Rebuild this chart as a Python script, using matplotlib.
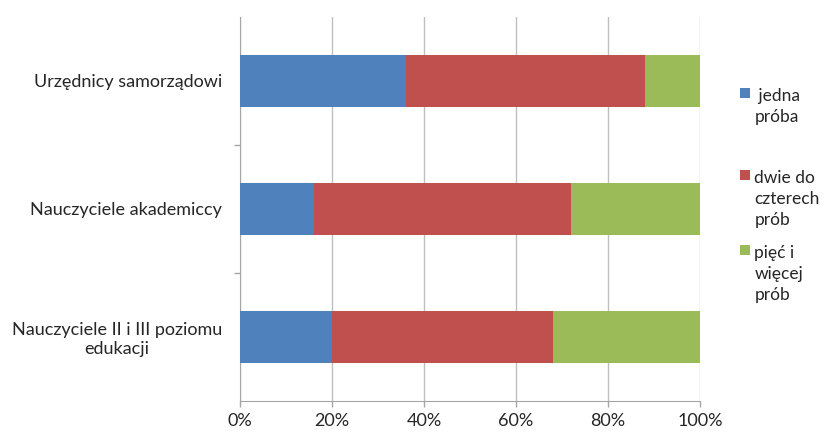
import matplotlib.pyplot as plt
from matplotlib.legend import Legend
import numpy as np

plt.rcParams['font.family'] = ['Lato', 'DejaVu Sans']

categories = ['Urzędnicy samorządowi', 'Nauczyciele akademiccy', 'Nauczyciele II i III poziomu\nedukacji']
series_names = [' jedna\npróba', 'dwie do\nczterech\nprób', 'pięć i\nwięcej\nprób']
jedna = [36, 16, 20]
dwie_do_czterech = [52, 56, 48]
piec_i_wiecej = [12, 28, 32]
x_ticks = [0, 20, 40, 60, 80, 100]
x_labels = ['0%', '20%', '40%', '60%', '80%', '100%']

colors = ['#4F81BD', '#C0504D', '#9BBB59']
grey = '#A6A6A6'
txt = '#262626'
fs = 13

fig = plt.figure(figsize=(8.26, 4.33), dpi=100)
ax = fig.add_axes([240 / 826, 1 - 401 / 433, 460 / 826, 384 / 433])

y = np.arange(len(categories))
left = np.zeros(len(categories))
bars = []
for vals, name, c in zip([jedna, dwie_do_czterech, piec_i_wiecej], series_names, colors):
    bars.append(ax.barh(y, vals, left=left, height=0.4, color=c, label=name, zorder=3))
    left += np.array(vals)

ax.set_xlim(0, 100)
ax.set_ylim(len(categories) - 0.5, -0.5)
ax.set_xticks(x_ticks, x_labels)
ax.set_yticks(y, categories, ha='right', multialignment='center')
ax.set_yticks([0.5, 1.5], minor=True)
ax.tick_params(axis='y', which='major', length=0, pad=13, labelsize=fs, labelcolor=txt)
ax.tick_params(axis='y', which='minor', length=4, color=grey, width=1)
ax.tick_params(axis='x', length=4, color=grey, width=1, pad=5, labelsize=fs, labelcolor=txt)

ax.grid(axis='x', color='#BFBFBF', linewidth=1, zorder=0)
for s in ['top', 'right']:
    ax.spines[s].set_visible(False)
for s in ['left', 'bottom']:
    ax.spines[s].set_color(grey)

# one legend per series, square lined up with the first text line
legend_tops = [79, 161, 236]
for b, name, top in zip(bars, series_names, legend_tops):
    leg = Legend(ax, [b], [name], loc='upper left', bbox_to_anchor=(731 / 826, 1 - top / 433),
                 bbox_transform=fig.transFigure, frameon=False, fontsize=12.5,
                 handlelength=0.6, handleheight=0.55, handletextpad=0.25, borderpad=0,
                 labelcolor=txt)
    for t in leg.get_texts():
        t.set_linespacing(1.4)
    for col in leg._legend_handle_box.get_children():
        for row in col.get_children():
            row.align = 'top'
    ax.add_artist(leg)

fig.savefig('out.png', dpi=100)
